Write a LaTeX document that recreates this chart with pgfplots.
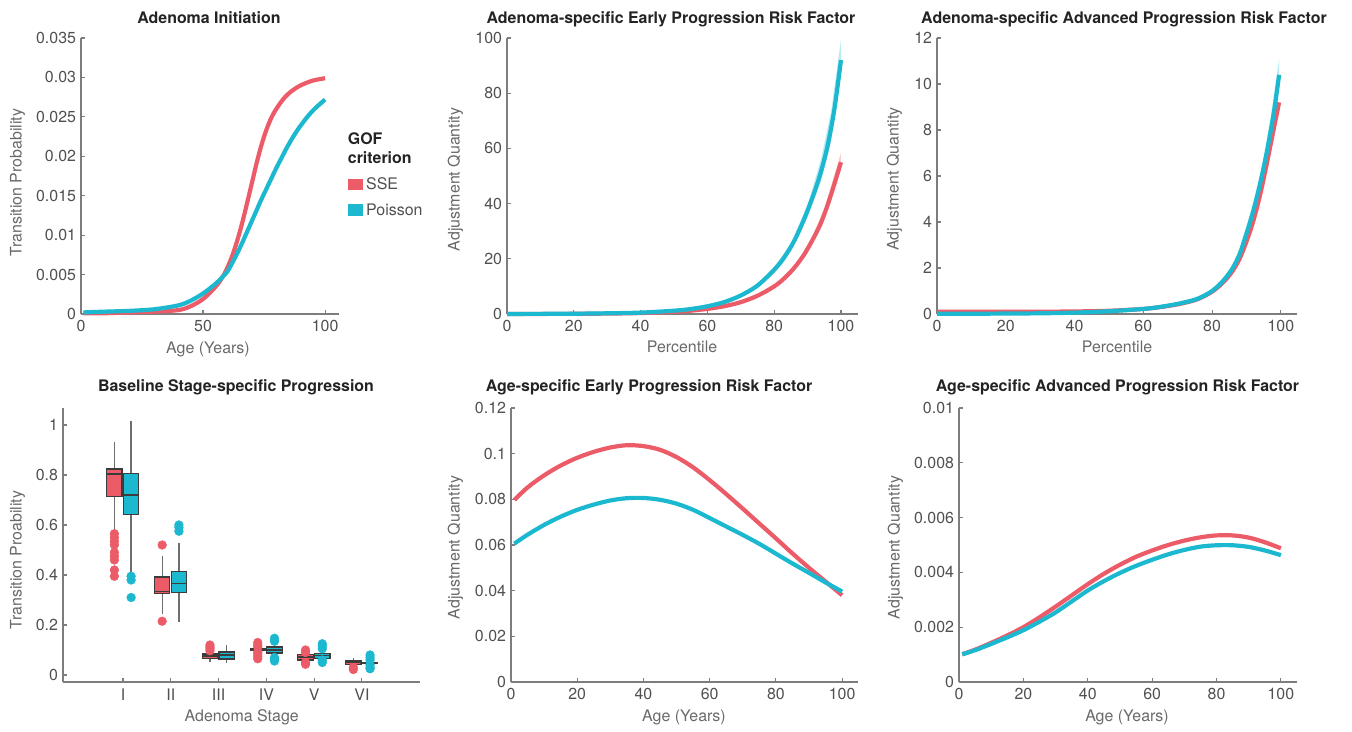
\documentclass[border=0pt]{standalone}
\usepackage{fontspec}
\setmainfont{TeX Gyre Heros}
\usepackage{pgfplots}
\pgfplotsset{compat=1.18}
\usepgfplotslibrary{statistics}
\definecolor{sse}{RGB}{236,92,104}
\definecolor{poi}{RGB}{28,184,208}
\definecolor{axgray}{RGB}{125,125,125}
\definecolor{ticktext}{RGB}{80,80,80}
\definecolor{labtext}{RGB}{105,105,105}
\definecolor{titletext}{RGB}{35,35,35}
\definecolor{boxline}{RGB}{60,60,60}
\definecolor{whisk}{RGB}{110,110,110}
\newcommand{\fs}{\fontsize{16}{19}\selectfont}
\pgfplotsset{
  panel/.style={
    scale only axis,
    anchor=south west,
    axis x line*=bottom,
    axis y line*=left,
    axis line style={axgray, line width=1.1bp},
    tick style={axgray, line width=1.1bp},
    tick align=inside,
    major tick length=4bp,
    font=\fs,
    scaled x ticks=false,
    scaled y ticks=false,
    ticklabel style={text=ticktext},
    xticklabel style={yshift=-3bp},
    yticklabel style={xshift=-1.5bp},
    every axis plot/.append style={line width=4.2bp, mark=none},
    clip=false,
  },
  bx/.style 2 args={boxplot prepared={#1}, line width=1.2bp, draw=boxline,
    boxplot/draw direction=y,
    boxplot/every box/.style={draw=boxline, fill=#2},
    boxplot/every median/.style={draw=boxline, line width=1.4bp},
    boxplot/every whisker/.style={draw=whisk, line width=1.3bp}},
  ol/.style={#1, only marks, mark=*, mark size=4.4bp, line width=0.4bp},
}
\begin{document}
\begin{tikzpicture}
\path[use as bounding box] (0bp,0bp) rectangle (1352bp,732bp);

% ---------- Panel 1: Adenoma Initiation ----------
\begin{axis}[panel, at={(81bp,418bp)}, width=258bp, height=276bp,
  xmin=0, xmax=105.7, ymin=0, ymax=0.035,
  xtick={0,50,100}, xticklabels={0,50,100},
  ytick={0,0.005,0.01,0.015,0.02,0.025,0.03,0.035},
  yticklabels={0,0.005,0.01,0.015,0.02,0.025,0.03,0.035},
  legend style={draw=none, fill=none, at={(1.036,0.497)}, anchor=north west,
    inner sep=0pt, row sep=10bp, column sep=2.5bp,
    nodes={inner sep=1bp, text=ticktext, font=\fs}},
  legend cell align=left]
\addplot[sse, smooth, forget plot] coordinates {(1,0.0001) (10,0.0001) (20,0.0002) (30,0.0003) (40,0.0005) (45,0.0010) (50,0.0019) (55,0.0034) (58,0.0047) (60,0.0059) (62,0.0074) (64,0.0093) (66,0.0115) (68,0.0140) (70,0.0166) (72,0.0192) (74,0.0215) (76,0.0234) (78,0.0249) (80,0.0260) (83,0.0273) (86,0.0282) (90,0.0290) (95,0.0296) (100,0.0299)};
\addplot[poi, smooth, forget plot] coordinates {(1,0.0002) (10,0.0003) (20,0.0004) (30,0.0006) (40,0.0011) (45,0.0017) (50,0.0026) (55,0.0038) (58,0.0047) (60,0.0054) (62,0.0065) (64,0.0077) (66,0.0090) (68,0.0104) (70,0.0118) (72,0.0132) (74,0.0146) (76,0.0159) (78,0.0172) (80,0.0185) (82,0.0197) (84,0.0209) (86,0.0220) (88,0.0230) (90,0.0239) (93,0.0251) (96,0.0261) (100,0.0272)};
\addlegendimage{legend image code/.code={\fill[sse] (0bp,-3.5bp) rectangle (10bp,3.5bp);}}
\addlegendentry{SSE}
\addlegendimage{legend image code/.code={\fill[poi] (0bp,-3.5bp) rectangle (10bp,3.5bp);}}
\addlegendentry{Poisson}
\end{axis}

% ---------- Panel 2: Adenoma-specific Early ----------
\begin{axis}[panel, at={(507bp,418bp)}, width=351bp, height=276bp,
  xmin=0, xmax=105.1, ymin=0, ymax=100,
  xtick={0,20,40,60,80,100}, xticklabels={0,20,40,60,80,100},
  ytick={0,20,40,60,80,100}, yticklabels={0,20,40,60,80,100}]
\addplot[fill=sse, fill opacity=0.3, draw=none] coordinates {(85,15.6) (90,24.5) (95,38) (100,58.5) (100,52.5) (95,34.5) (90,22.5) (85,14.4)};
\addplot[sse, smooth] coordinates {(0,0.01) (10,0.03) (20,0.06) (30,0.15) (40,0.34) (50,0.8) (55,1.2) (60,1.85) (65,2.8) (70,4.3) (75,6.6) (80,10.0) (83,12.9) (86,16.7) (89,21.6) (92,28) (94,33) (96,39.5) (98,47) (100,55)};
\addplot[fill=poi, fill opacity=0.3, draw=none] coordinates {(75,10.9) (80,17.1) (85,25.5) (90,39.5) (94,56) (97,73) (100,99.5) (100,86) (97,62) (94,48) (90,35) (85,22.7) (80,15) (75,9.8)};
\addplot[poi, smooth] coordinates {(0,0.02) (10,0.05) (20,0.1) (30,0.25) (40,0.5) (50,1.2) (55,1.8) (60,2.8) (65,4.3) (70,6.7) (75,10.3) (80,16) (83,20.5) (86,26.5) (89,34.5) (92,44) (94,51.5) (96,61) (98,74) (100,92)};
\end{axis}

% ---------- Panel 3: Adenoma-specific Advanced ----------
\begin{axis}[panel, at={(937bp,418bp)}, width=360bp, height=276bp,
  xmin=0, xmax=104.7, ymin=0, ymax=12,
  xtick={0,20,40,60,80,100}, xticklabels={0,20,40,60,80,100},
  ytick={0,2,4,6,8,10,12}, yticklabels={0,2,4,6,8,10,12}]
\addplot[sse, smooth] coordinates {(0,0.1) (10,0.1) (20,0.1) (30,0.1) (40,0.11) (50,0.14) (60,0.22) (65,0.3) (70,0.42) (75,0.6) (78,0.8) (80,0.97) (82,1.2) (84,1.5) (86,1.88) (88,2.4) (90,3.15) (92,4.05) (94,5.2) (96,6.6) (98,8.1) (99.5,9.2)};
\addplot[fill=poi, fill opacity=0.3, draw=none] coordinates {(94,6.0) (97,8.5) (99.5,11.1) (99.5,9.9) (97,7.9) (94,5.5)};
\addplot[poi, smooth] coordinates {(0,0.01) (10,0.01) (20,0.02) (30,0.03) (40,0.06) (50,0.12) (60,0.22) (65,0.31) (70,0.44) (75,0.62) (78,0.82) (80,1.0) (82,1.25) (84,1.58) (86,2.0) (88,2.6) (90,3.5) (92,4.5) (94,5.7) (96,7.1) (98,8.8) (99.5,10.4)};
\end{axis}

% ---------- Panel 4: Baseline Stage-specific Progression ----------
\begin{axis}[panel, at={(63bp,50bp)}, width=357bp, height=274bp,
  xmin=-0.255, xmax=7.215, ymin=-0.028, ymax=1.068,
  xtick={1,2,3,4,5,6}, xticklabels={I,II,III,IV,V,VI},
  ytick={0,0.2,0.4,0.6,0.8,1}, yticklabels={0,0.2,0.4,0.6,0.8,1},
  boxplot/box extend=0.32, boxplot/whisker extend=0]
% outliers (drawn first)
\addplot[ol=sse] coordinates {(0.82,0.565) (0.82,0.55) (0.82,0.535) (0.82,0.52) (0.82,0.49) (0.82,0.475) (0.82,0.46) (0.82,0.42) (0.82,0.395)};
\addplot[ol=poi] coordinates {(1.17,0.395) (1.17,0.38) (1.17,0.31)};
\addplot[ol=sse] coordinates {(1.82,0.52) (1.82,0.215)};
\addplot[ol=poi] coordinates {(2.17,0.60) (2.17,0.59) (2.17,0.575)};
\addplot[ol=sse] coordinates {(2.82,0.097) (2.82,0.105) (2.82,0.112) (2.82,0.12)};
\addplot[ol=sse] coordinates {(3.82,0.065) (3.82,0.075) (3.82,0.085) (3.82,0.093) (3.82,0.112) (3.82,0.12) (3.82,0.13)};
\addplot[ol=poi] coordinates {(4.17,0.147) (4.17,0.135) (4.17,0.07) (4.17,0.062) (4.17,0.056)};
\addplot[ol=sse] coordinates {(4.82,0.10) (4.82,0.09) (4.82,0.05) (4.82,0.043)};
\addplot[ol=poi] coordinates {(5.17,0.125) (5.17,0.115) (5.17,0.105) (5.17,0.06) (5.17,0.05)};
\addplot[ol=sse] coordinates {(5.82,0.03) (5.82,0.022)};
\addplot[ol=poi] coordinates {(6.17,0.08) (6.17,0.07) (6.17,0.06) (6.17,0.04) (6.17,0.03) (6.17,0.025)};
% boxes
\addplot[bx={draw position=0.82, lower whisker=0.575, lower quartile=0.713, median=0.804, upper quartile=0.824, upper whisker=0.933}{sse}] coordinates {};
\addplot[bx={draw position=1.17, lower whisker=0.405, lower quartile=0.643, median=0.72, upper quartile=0.805, upper whisker=1.017}{poi}] coordinates {};
\addplot[bx={draw position=1.82, lower whisker=0.245, lower quartile=0.325, median=0.335, upper quartile=0.392, upper whisker=0.475}{sse}] coordinates {};
\addplot[bx={draw position=2.17, lower whisker=0.21, lower quartile=0.33, median=0.367, upper quartile=0.413, upper whisker=0.527}{poi}] coordinates {};
\addplot[bx={draw position=2.82, lower whisker=0.053, lower quartile=0.067, median=0.076, upper quartile=0.084, upper whisker=0.095}{sse}] coordinates {};
\addplot[bx={draw position=3.17, lower whisker=0.048, lower quartile=0.064, median=0.08, upper quartile=0.092, upper whisker=0.12}{poi}] coordinates {};
\addplot[bx={draw position=3.82, lower whisker=0.097, lower quartile=0.098, median=0.101, upper quartile=0.105, upper whisker=0.108}{sse}] coordinates {};
\addplot[bx={draw position=4.17, lower whisker=0.085, lower quartile=0.088, median=0.1, upper quartile=0.112, upper whisker=0.115}{poi}] coordinates {};
\addplot[bx={draw position=4.82, lower whisker=0.055, lower quartile=0.06, median=0.072, upper quartile=0.083, upper whisker=0.088}{sse}] coordinates {};
\addplot[bx={draw position=5.17, lower whisker=0.062, lower quartile=0.067, median=0.078, upper quartile=0.087, upper whisker=0.092}{poi}] coordinates {};
\addplot[bx={draw position=5.82, lower whisker=0.04, lower quartile=0.042, median=0.049, upper quartile=0.056, upper whisker=0.067}{sse}] coordinates {};
\addplot[bx={draw position=6.17, lower whisker=0.043, lower quartile=0.045, median=0.048, upper quartile=0.05, upper whisker=0.052}{poi}] coordinates {};
\end{axis}

% ---------- Panel 5: Age-specific Early ----------
\begin{axis}[panel, at={(511bp,50bp)}, width=347bp, height=274bp,
  xmin=0, xmax=104.8, ymin=0, ymax=0.12,
  xtick={0,20,40,60,80,100}, xticklabels={0,20,40,60,80,100},
  ytick={0,0.02,0.04,0.06,0.08,0.1,0.12}, yticklabels={0,0.02,0.04,0.06,0.08,0.1,0.12}]
\addplot[sse, smooth] coordinates {(1,0.0797) (5,0.0852) (10,0.0905) (15,0.0948) (20,0.0982) (25,0.1008) (30,0.1027) (35,0.1037) (40,0.1033) (45,0.1017) (50,0.0985) (55,0.0940) (60,0.0884) (65,0.0823) (70,0.0759) (75,0.0694) (80,0.0629) (85,0.0563) (90,0.0500) (95,0.0440) (100,0.0380)};
\addplot[poi, smooth] coordinates {(1,0.0606) (5,0.0645) (10,0.0688) (15,0.0724) (20,0.0754) (25,0.0777) (30,0.0795) (35,0.0805) (40,0.0806) (45,0.0798) (50,0.0781) (55,0.0754) (60,0.0718) (65,0.0681) (70,0.0644) (75,0.0605) (80,0.0562) (85,0.0519) (90,0.0478) (95,0.0436) (100,0.0396)};
\end{axis}

% ---------- Panel 6: Age-specific Advanced ----------
\begin{axis}[panel, at={(959bp,50bp)}, width=338bp, height=274bp,
  xmin=0, xmax=105, ymin=0, ymax=0.01,
  xtick={0,20,40,60,80,100}, xticklabels={0,20,40,60,80,100},
  ytick={0,0.002,0.004,0.006,0.008,0.01}, yticklabels={0,0.002,0.004,0.006,0.008,0.01}]
\addplot[sse, smooth] coordinates {(1,0.00101) (5,0.00118) (10,0.00143) (15,0.00170) (20,0.00200) (25,0.00236) (30,0.00275) (35,0.00316) (40,0.00357) (45,0.00395) (50,0.00428) (55,0.00457) (60,0.00480) (65,0.00500) (70,0.00516) (75,0.00528) (80,0.00535) (85,0.00535) (90,0.00527) (95,0.00510) (100,0.00488)};
\addplot[poi, smooth] coordinates {(1,0.00101) (5,0.00116) (10,0.00139) (15,0.00163) (20,0.00189) (25,0.00220) (30,0.00254) (35,0.00294) (40,0.00334) (45,0.00368) (50,0.00398) (55,0.00424) (60,0.00446) (65,0.00466) (70,0.00482) (75,0.00494) (80,0.00499) (85,0.00499) (90,0.00493) (95,0.00480) (100,0.00463)};
\end{axis}

% ---------- titles ----------
\begin{scope}[every node/.style={anchor=base, text=titletext, font=\bfseries\fs, inner sep=0pt}]
\node at (209bp,708.7bp) {Adenoma Initiation};
\node at (671bp,708.7bp) {Adenoma-specific Early Progression Risk Factor};
\node at (1124bp,708.7bp) {Adenoma-specific Advanced Progression Risk Factor};
\node at (236bp,340bp) {Baseline Stage-specific Progression};
\node at (649bp,340bp) {Age-specific Early Progression Risk Factor};
\node at (1117.5bp,340bp) {Age-specific Advanced Progression Risk Factor};
\end{scope}
% ---------- axis labels ----------
\begin{scope}[every node/.style={anchor=base, text=labtext, font=\fs, inner sep=0pt}]
\node[rotate=90] at (21.5bp,549.5bp) {Transition Probability};
\node[rotate=90] at (459.5bp,552.5bp) {Adjustment Quantity};
\node[rotate=90] at (898.5bp,553bp) {Adjustment Quantity};
\node[rotate=90] at (21.5bp,172bp) {Transition Proability};
\node[rotate=90] at (459.5bp,184.5bp) {Adjustment Quantity};
\node[rotate=90] at (899.5bp,184.5bp) {Adjustment Quantity};
\node at (208bp,378.8bp) {Age (Years)};
\node at (682bp,379bp) {Percentile};
\node at (1117bp,379bp) {Percentile};
\node at (241.7bp,10.5bp) {Adenoma Stage};
\node at (684bp,10.5bp) {Age (Years)};
\node at (1127bp,10.5bp) {Age (Years)};
\end{scope}
% legend title
\node[anchor=base west, inner sep=0pt, text=titletext, font=\bfseries\fs] at (347.7bp,587bp) {GOF};
\node[anchor=base west, inner sep=0pt, text=titletext, font=\bfseries\fs] at (347.7bp,568.5bp) {criterion};
\end{tikzpicture}
\end{document}
